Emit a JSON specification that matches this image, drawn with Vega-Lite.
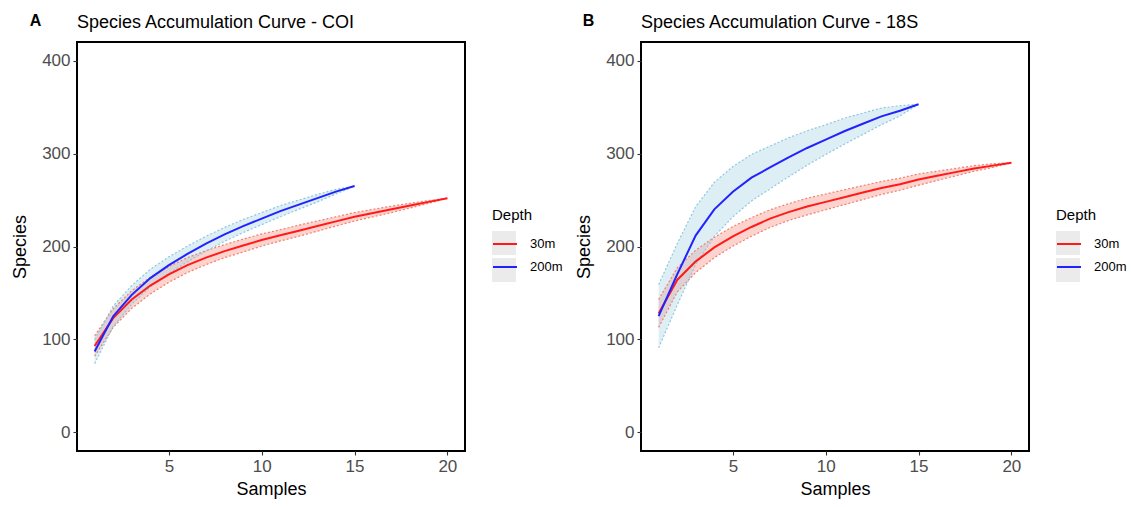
{
  "$schema": "https://vega.github.io/schema/vega-lite/v6.json",
  "padding": {"left": 10, "top": 13, "right": 0, "bottom": 0},
  "background": "white",
  "config": {
    "font": "Liberation Sans",
    "view": {"stroke": "black", "strokeWidth": 2},
    "axis": {
      "grid": false, "domain": false,
      "tickColor": "#333333", "tickSize": 4, "tickWidth": 1.1,
      "labelColor": "#4d4d4d", "labelFontSize": 17, "labelPadding": 3,
      "titleColor": "black", "titleFontSize": 18, "titleFontWeight": "normal"
    },
    "legend": {
      "symbolSize": 576, "symbolOffset": 0,
      "titleFontSize": 15, "titleFontWeight": "normal", "titleColor": "black", "titlePadding": 8,
      "labelFontSize": 13, "labelColor": "black", "labelOffset": 12, "rowPadding": 3
    },
    "title": {"fontSize": 18, "fontWeight": "normal", "color": "black", "anchor": "start"}
  },
  "datasets": {
    "coi": [
      {"Samples": 1, "Depth": "30m", "Species": 93, "lower": 82, "upper": 104},
      {"Samples": 2, "Depth": "30m", "Species": 123, "lower": 113, "upper": 133},
      {"Samples": 3, "Depth": "30m", "Species": 143, "lower": 133.5, "upper": 152.5},
      {"Samples": 4, "Depth": "30m", "Species": 158, "lower": 149, "upper": 167},
      {"Samples": 5, "Depth": "30m", "Species": 170, "lower": 161.5, "upper": 178.5},
      {"Samples": 6, "Depth": "30m", "Species": 180, "lower": 172, "upper": 188},
      {"Samples": 7, "Depth": "30m", "Species": 188, "lower": 180.5, "upper": 195.5},
      {"Samples": 8, "Depth": "30m", "Species": 195, "lower": 188, "upper": 202},
      {"Samples": 9, "Depth": "30m", "Species": 201, "lower": 194, "upper": 208},
      {"Samples": 10, "Depth": "30m", "Species": 207, "lower": 200.5, "upper": 213.5},
      {"Samples": 11, "Depth": "30m", "Species": 212, "lower": 206, "upper": 218},
      {"Samples": 12, "Depth": "30m", "Species": 217, "lower": 211, "upper": 223},
      {"Samples": 13, "Depth": "30m", "Species": 222, "lower": 216.5, "upper": 227.5},
      {"Samples": 14, "Depth": "30m", "Species": 227, "lower": 222, "upper": 232},
      {"Samples": 15, "Depth": "30m", "Species": 232, "lower": 227.5, "upper": 236.5},
      {"Samples": 16, "Depth": "30m", "Species": 236, "lower": 232, "upper": 240},
      {"Samples": 17, "Depth": "30m", "Species": 240, "lower": 236.5, "upper": 243.5},
      {"Samples": 18, "Depth": "30m", "Species": 244, "lower": 241.5, "upper": 246.5},
      {"Samples": 19, "Depth": "30m", "Species": 248, "lower": 246.5, "upper": 249.5},
      {"Samples": 20, "Depth": "30m", "Species": 252, "lower": 252, "upper": 252},
      {"Samples": 1, "Depth": "200m", "Species": 87, "lower": 74, "upper": 100},
      {"Samples": 2, "Depth": "200m", "Species": 125, "lower": 114, "upper": 136},
      {"Samples": 3, "Depth": "200m", "Species": 148, "lower": 138, "upper": 158},
      {"Samples": 4, "Depth": "200m", "Species": 166, "lower": 156.5, "upper": 175.5},
      {"Samples": 5, "Depth": "200m", "Species": 180, "lower": 171, "upper": 189},
      {"Samples": 6, "Depth": "200m", "Species": 192, "lower": 183.5, "upper": 200.5},
      {"Samples": 7, "Depth": "200m", "Species": 203, "lower": 195, "upper": 211},
      {"Samples": 8, "Depth": "200m", "Species": 213, "lower": 205.5, "upper": 220.5},
      {"Samples": 9, "Depth": "200m", "Species": 222, "lower": 215, "upper": 229},
      {"Samples": 10, "Depth": "200m", "Species": 230, "lower": 223.5, "upper": 236.5},
      {"Samples": 11, "Depth": "200m", "Species": 238, "lower": 232, "upper": 244},
      {"Samples": 12, "Depth": "200m", "Species": 245, "lower": 240, "upper": 250},
      {"Samples": 13, "Depth": "200m", "Species": 252, "lower": 248, "upper": 256},
      {"Samples": 14, "Depth": "200m", "Species": 259, "lower": 256.5, "upper": 261.5},
      {"Samples": 15, "Depth": "200m", "Species": 265, "lower": 265, "upper": 265}
    ],
    "s18": [
      {"Samples": 1, "Depth": "30m", "Species": 128, "lower": 113, "upper": 143},
      {"Samples": 2, "Depth": "30m", "Species": 164, "lower": 151, "upper": 177},
      {"Samples": 3, "Depth": "30m", "Species": 184, "lower": 172, "upper": 196},
      {"Samples": 4, "Depth": "30m", "Species": 199, "lower": 188, "upper": 210},
      {"Samples": 5, "Depth": "30m", "Species": 211, "lower": 200.5, "upper": 221.5},
      {"Samples": 6, "Depth": "30m", "Species": 221, "lower": 211, "upper": 231},
      {"Samples": 7, "Depth": "30m", "Species": 230, "lower": 220.5, "upper": 239.5},
      {"Samples": 8, "Depth": "30m", "Species": 237, "lower": 228, "upper": 246},
      {"Samples": 9, "Depth": "30m", "Species": 243, "lower": 234, "upper": 252},
      {"Samples": 10, "Depth": "30m", "Species": 248, "lower": 239.5, "upper": 256.5},
      {"Samples": 11, "Depth": "30m", "Species": 253, "lower": 245, "upper": 261},
      {"Samples": 12, "Depth": "30m", "Species": 258, "lower": 250.5, "upper": 265.5},
      {"Samples": 13, "Depth": "30m", "Species": 263, "lower": 256, "upper": 270},
      {"Samples": 14, "Depth": "30m", "Species": 267, "lower": 260.5, "upper": 273.5},
      {"Samples": 15, "Depth": "30m", "Species": 272, "lower": 266, "upper": 278},
      {"Samples": 16, "Depth": "30m", "Species": 276, "lower": 271, "upper": 281},
      {"Samples": 17, "Depth": "30m", "Species": 280, "lower": 276, "upper": 284},
      {"Samples": 18, "Depth": "30m", "Species": 284, "lower": 281, "upper": 287},
      {"Samples": 19, "Depth": "30m", "Species": 287, "lower": 285, "upper": 289},
      {"Samples": 20, "Depth": "30m", "Species": 290, "lower": 290, "upper": 290},
      {"Samples": 1, "Depth": "200m", "Species": 125, "lower": 91, "upper": 159},
      {"Samples": 2, "Depth": "200m", "Species": 170, "lower": 137, "upper": 203},
      {"Samples": 3, "Depth": "200m", "Species": 212, "lower": 181, "upper": 243},
      {"Samples": 4, "Depth": "200m", "Species": 240, "lower": 211, "upper": 269},
      {"Samples": 5, "Depth": "200m", "Species": 259, "lower": 232, "upper": 286},
      {"Samples": 6, "Depth": "200m", "Species": 274, "lower": 249, "upper": 299},
      {"Samples": 7, "Depth": "200m", "Species": 285, "lower": 262, "upper": 308},
      {"Samples": 8, "Depth": "200m", "Species": 296, "lower": 275, "upper": 317},
      {"Samples": 9, "Depth": "200m", "Species": 306, "lower": 287.5, "upper": 324.5},
      {"Samples": 10, "Depth": "200m", "Species": 315, "lower": 299, "upper": 331},
      {"Samples": 11, "Depth": "200m", "Species": 324, "lower": 310, "upper": 338},
      {"Samples": 12, "Depth": "200m", "Species": 332, "lower": 320.5, "upper": 343.5},
      {"Samples": 13, "Depth": "200m", "Species": 340, "lower": 331, "upper": 349},
      {"Samples": 14, "Depth": "200m", "Species": 346, "lower": 340.5, "upper": 351.5},
      {"Samples": 15, "Depth": "200m", "Species": 353, "lower": 353, "upper": 353}
    ]
  },
  "spacing": 11,
  "resolve": {
    "scale": {"color": "independent", "fill": "independent"},
    "legend": {"color": "independent", "fill": "independent"}
  },
  "hconcat": [
    {
      "title": {"text": "A", "fontWeight": "bold", "fontSize": 16, "anchor": "start", "frame": "bounds", "offset": -16, "dx": 19},
      "vconcat": [
        {
          "width": 388, "height": 409,
          "title": {"text": "Species Accumulation Curve - COI", "offset": 10, "frame": "group"},
          "data": {"name": "coi"},
          "encoding": {
            "x": {"field": "Samples", "type": "quantitative",
                  "scale": {"domain": [0.05, 20.95], "nice": false, "zero": false},
                  "axis": {"values": [5, 10, 15, 20], "title": "Samples", "titlePadding": 6}}
          },
          "layer": [
            {
              "transform": [{"filter": "datum.Depth == '30m'"}],
              "mark": {"type": "area", "fillOpacity": 0.35, "color": "#fa8072"},
              "encoding": {
                "y": {"field": "lower", "type": "quantitative", "scale": {"domain": [-20, 420], "nice": false},
                      "axis": {"values": [0, 100, 200, 300, 400], "title": "Species", "titlePadding": 12}},
                "y2": {"field": "upper"}
              }
            },
            {
              "transform": [{"filter": "datum.Depth == '200m'"}],
              "mark": {"type": "area", "fillOpacity": 0.35, "color": "#9fd0e3"},
              "encoding": {
                "y": {"field": "lower", "type": "quantitative", "scale": {"domain": [-20, 420], "nice": false},
                      "axis": {"values": [0, 100, 200, 300, 400], "title": "Species", "titlePadding": 12}},
                "y2": {"field": "upper"}
              }
            },
            {
              "transform": [{"filter": "datum.Depth == '30m'"}],
              "mark": {"type": "line", "strokeDash": [2, 2], "strokeWidth": 1.2, "color": "#f08070"},
              "encoding": {
                "y": {"field": "lower", "type": "quantitative", "scale": {"domain": [-20, 420], "nice": false},
                      "axis": {"values": [0, 100, 200, 300, 400], "title": "Species", "titlePadding": 12}}
              }
            },
            {
              "transform": [{"filter": "datum.Depth == '30m'"}],
              "mark": {"type": "line", "strokeDash": [2, 2], "strokeWidth": 1.2, "color": "#f08070"},
              "encoding": {
                "y": {"field": "upper", "type": "quantitative", "scale": {"domain": [-20, 420], "nice": false},
                      "axis": {"values": [0, 100, 200, 300, 400], "title": "Species", "titlePadding": 12}}
              }
            },
            {
              "transform": [{"filter": "datum.Depth == '200m'"}],
              "mark": {"type": "line", "strokeDash": [2, 2], "strokeWidth": 1.2, "color": "#8cc8e0"},
              "encoding": {
                "y": {"field": "lower", "type": "quantitative", "scale": {"domain": [-20, 420], "nice": false},
                      "axis": {"values": [0, 100, 200, 300, 400], "title": "Species", "titlePadding": 12}}
              }
            },
            {
              "transform": [{"filter": "datum.Depth == '200m'"}],
              "mark": {"type": "line", "strokeDash": [2, 2], "strokeWidth": 1.2, "color": "#8cc8e0"},
              "encoding": {
                "y": {"field": "upper", "type": "quantitative", "scale": {"domain": [-20, 420], "nice": false},
                      "axis": {"values": [0, 100, 200, 300, 400], "title": "Species", "titlePadding": 12}}
              }
            },
            {
              "transform": [{"filter": "false"}],
              "mark": {"type": "square", "opacity": 1},
              "encoding": {
                "y": {"field": "Species", "type": "quantitative", "scale": {"domain": [-20, 420], "nice": false},
                      "axis": {"values": [0, 100, 200, 300, 400], "title": "Species", "titlePadding": 12}},
                "fill": {"field": "Depth", "type": "nominal",
                         "scale": {"domain": ["30m ", "200m "], "range": ["#ebebeb", "#ebebeb"]},
                         "legend": {"title": "Depth", "orient": "none", "legendX": 415, "legendY": 166, "zindex": 1,
                                    "symbolType": "square", "symbolStrokeWidth": 0, "symbolOpacity": 1,
                                    "titleOpacity": 0, "labelExpr": "''"}}
              }
            },
            {
              "mark": {"type": "line", "strokeWidth": 2},
              "encoding": {
                "y": {"field": "Species", "type": "quantitative", "scale": {"domain": [-20, 420], "nice": false},
                      "axis": {"values": [0, 100, 200, 300, 400], "title": "Species", "titlePadding": 12}},
                "color": {"field": "Depth", "type": "nominal", "sort": ["30m", "200m"],
                          "scale": {"domain": ["30m", "200m"], "range": ["#ff1a1a", "#2222ff"]},
                          "legend": {"title": "Depth", "orient": "none", "legendX": 415, "legendY": 166, "zindex": 2,
                                     "symbolType": "stroke", "symbolStrokeWidth": 2}}
              }
            }
          ]
        }
      ]
    },
    {
      "title": {"text": "B", "fontWeight": "bold", "fontSize": 16, "anchor": "start", "frame": "bounds", "offset": -16, "dx": 8},
      "vconcat": [
        {
          "width": 388, "height": 409,
          "title": {"text": "Species Accumulation Curve - 18S", "offset": 10, "frame": "group"},
          "data": {"name": "s18"},
          "encoding": {
            "x": {"field": "Samples", "type": "quantitative",
                  "scale": {"domain": [0.05, 20.95], "nice": false, "zero": false},
                  "axis": {"values": [5, 10, 15, 20], "title": "Samples", "titlePadding": 6}}
          },
          "layer": [
            {
              "transform": [{"filter": "datum.Depth == '30m'"}],
              "mark": {"type": "area", "fillOpacity": 0.35, "color": "#fa8072"},
              "encoding": {
                "y": {"field": "lower", "type": "quantitative", "scale": {"domain": [-20, 420], "nice": false},
                      "axis": {"values": [0, 100, 200, 300, 400], "title": "Species", "titlePadding": 12}},
                "y2": {"field": "upper"}
              }
            },
            {
              "transform": [{"filter": "datum.Depth == '200m'"}],
              "mark": {"type": "area", "fillOpacity": 0.35, "color": "#9fd0e3"},
              "encoding": {
                "y": {"field": "lower", "type": "quantitative", "scale": {"domain": [-20, 420], "nice": false},
                      "axis": {"values": [0, 100, 200, 300, 400], "title": "Species", "titlePadding": 12}},
                "y2": {"field": "upper"}
              }
            },
            {
              "transform": [{"filter": "datum.Depth == '30m'"}],
              "mark": {"type": "line", "strokeDash": [2, 2], "strokeWidth": 1.2, "color": "#f08070"},
              "encoding": {
                "y": {"field": "lower", "type": "quantitative", "scale": {"domain": [-20, 420], "nice": false},
                      "axis": {"values": [0, 100, 200, 300, 400], "title": "Species", "titlePadding": 12}}
              }
            },
            {
              "transform": [{"filter": "datum.Depth == '30m'"}],
              "mark": {"type": "line", "strokeDash": [2, 2], "strokeWidth": 1.2, "color": "#f08070"},
              "encoding": {
                "y": {"field": "upper", "type": "quantitative", "scale": {"domain": [-20, 420], "nice": false},
                      "axis": {"values": [0, 100, 200, 300, 400], "title": "Species", "titlePadding": 12}}
              }
            },
            {
              "transform": [{"filter": "datum.Depth == '200m'"}],
              "mark": {"type": "line", "strokeDash": [2, 2], "strokeWidth": 1.2, "color": "#8cc8e0"},
              "encoding": {
                "y": {"field": "lower", "type": "quantitative", "scale": {"domain": [-20, 420], "nice": false},
                      "axis": {"values": [0, 100, 200, 300, 400], "title": "Species", "titlePadding": 12}}
              }
            },
            {
              "transform": [{"filter": "datum.Depth == '200m'"}],
              "mark": {"type": "line", "strokeDash": [2, 2], "strokeWidth": 1.2, "color": "#8cc8e0"},
              "encoding": {
                "y": {"field": "upper", "type": "quantitative", "scale": {"domain": [-20, 420], "nice": false},
                      "axis": {"values": [0, 100, 200, 300, 400], "title": "Species", "titlePadding": 12}}
              }
            },
            {
              "transform": [{"filter": "false"}],
              "mark": {"type": "square", "opacity": 1},
              "encoding": {
                "y": {"field": "Species", "type": "quantitative", "scale": {"domain": [-20, 420], "nice": false},
                      "axis": {"values": [0, 100, 200, 300, 400], "title": "Species", "titlePadding": 12}},
                "fill": {"field": "Depth", "type": "nominal",
                         "scale": {"domain": ["30m ", "200m "], "range": ["#ebebeb", "#ebebeb"]},
                         "legend": {"title": "Depth", "orient": "none", "legendX": 415, "legendY": 166, "zindex": 1,
                                    "symbolType": "square", "symbolStrokeWidth": 0, "symbolOpacity": 1,
                                    "titleOpacity": 0, "labelExpr": "''"}}
              }
            },
            {
              "mark": {"type": "line", "strokeWidth": 2},
              "encoding": {
                "y": {"field": "Species", "type": "quantitative", "scale": {"domain": [-20, 420], "nice": false},
                      "axis": {"values": [0, 100, 200, 300, 400], "title": "Species", "titlePadding": 12}},
                "color": {"field": "Depth", "type": "nominal", "sort": ["30m", "200m"],
                          "scale": {"domain": ["30m", "200m"], "range": ["#ff1a1a", "#2222ff"]},
                          "legend": {"title": "Depth", "orient": "none", "legendX": 415, "legendY": 166, "zindex": 2,
                                     "symbolType": "stroke", "symbolStrokeWidth": 2}}
              }
            }
          ]
        }
      ]
    }
  ]
}
